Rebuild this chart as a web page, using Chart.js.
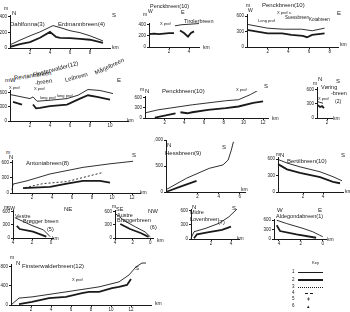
<!DOCTYPE html>
<html>
<head>
<meta charset="utf-8">
<script src="https://cdn.jsdelivr.net/npm/chart.js@4.4.0/dist/chart.umd.min.js"></script>
<style>
body { margin:0; width:350px; height:312px; background:#fff; position:relative; overflow:hidden; font-family:"Liberation Sans", Arial, sans-serif; color:#1a1a1a; }
canvas { position:absolute; }
.t { position:absolute; white-space:nowrap; line-height:1; }
.k { position:absolute; height:0; border-top:1px solid #1a1a1a; }
</style>
</head>
<body>
<script>
// DATOS: km y altura (m) de cada perfil, leidos de la figura
// fino = linea fina, grueso = linea gruesa, punteado = linea de puntos

// Dahlfonna / Erdmannbreen
const dahlFinoKm = [0, 1, 2, 3, 4.3, 5, 6, 7, 8, 9.3];
const dahlFinoM = [40, 100, 155, 205, 285, 260, 220, 195, 155, 90];
const dahlGruesoKm = [0, 1, 2, 3, 4, 4.6, 5, 6, 7, 8, 9.3];
const dahlGruesoM = [15, 50, 75, 130, 205, 140, 130, 125, 115, 105, 65];

// Penckbreen / Tirolerbreen
const tirolFinoKm = [2.6, 3.3, 4.2, 5];
const tirolFinoM = [380, 400, 410, 420];
const tirolGrueso1Km = [0, 0.5, 1, 1.5, 2, 2.5];
const tirolGrueso1M = [230, 240, 230, 240, 250, 250];
const tirolGrueso2Km = [3.1, 3.5, 3.9, 4.2, 4.5];
const tirolGrueso2M = [295, 250, 185, 250, 280];

// Penckbreen / Suessbreen / Kotabreen
const suessFinoKm = [0, 2, 3.5, 5.3, 6.3, 7.5];
const suessFinoM = [440, 365, 345, 345, 315, 365];
const suessGruesoKm = [0, 2, 3.4, 4.3, 5.4, 5.8, 6.3, 7.5];
const suessGruesoM = [330, 265, 265, 235, 215, 190, 235, 265];

// Revtannbreen / Finsterwalder / Leibreen / Marjelbreen
const revtFinoKm = [0, 2, 2.3, 2.7, 4, 5.7, 6.8, 7.8, 9, 10.3];
const revtFinoM = [555, 470, 505, 415, 435, 470, 540, 660, 640, 575];
const revtGrueso1Km = [0.3, 1.2];
const revtGrueso1M = [400, 345];
const revtGrueso2Km = [2.3, 2.6, 3, 4, 5.7, 7, 7.8, 8.7, 10];
const revtGrueso2M = [345, 265, 275, 310, 345, 470, 540, 505, 450];

// Penckbreen N-S
const penckFinoKm = [0, 1.3, 4.8, 8.2, 9.5, 10.7, 12];
const penckFinoM = [150, 240, 390, 510, 540, 690, 900];
const penckGrueso1Km = [1, 3.1];
const penckGrueso1M = [10, 140];
const penckGrueso2Km = [3.6, 4.3, 4.8, 6.4, 8.2, 9.5, 11, 12];
const penckGrueso2M = [170, 140, 170, 240, 290, 340, 450, 490];

// Voringbreen
const voringFinoKm = [0, 0.5, 1.2];
const voringFinoM = [350, 330, 310];
const voringGruesoKm = [0.2, 0.6, 1, 1.4];
const voringGruesoM = [270, 230, 250, 205];

// Antoniabreen
const antoFinoKm = [0, 0.1, 1.5, 3.8, 7.1, 9.8, 12.1];
const antoFinoM = [55, 175, 240, 375, 505, 575, 625];
const antoPunteadoKm = [1.3, 3.1, 5.5, 7.1, 9.1];
const antoPunteadoM = [105, 185, 225, 305, 405];
const antoGruesoKm = [1.1, 3.8, 5.5, 7.1, 8.8, 9.8];
const antoGruesoM = [95, 120, 185, 240, 240, 205];

// Hessbreen
const hessFinoKm = [-0.95, 0.95, 3.1, 4.4, 4.9, 5.2, 5.4];
const hessFinoM = [50, 265, 455, 520, 615, 805, 965];
const hessGruesoKm = [-0.95, 0.3, 1.9];
const hessGruesoM = [5, 100, 215];

// Bertilbreen
const bertilFinoKm = [-0.5, 0.4, 1.7, 3.7, 5, 5.9];
const bertilFinoM = [595, 530, 460, 370, 280, 205];
const bertilGruesoKm = [-0.5, 0.4, 1.7, 3.7, 5, 5.7];
const bertilGruesoM = [510, 415, 350, 270, 185, 160];

// Vestre Broggerbreen
const vestreFinoKm = [3.8, 2.9, 1.9, 0.8, 0.1];
const vestreFinoM = [465, 375, 275, 185, 30];
const vestreGruesoKm = [3.6, 3.3, 1.9, 0.5];
const vestreGruesoM = [275, 205, 145, 30];

// Austre Broggerbreen
const austreFinoKm = [3.9, 2.9, 1.7, 0.6, 0];
const austreFinoM = [550, 390, 255, 140, 25];
const austreGruesoKm = [3.4, 2.3, 1.1, 0.2];
const austreGruesoM = [320, 205, 115, 25];

// Midre Lovenbreen
const midreFinoKm = [0, 0.3, 1.5, 2.8, 3.8, 4.6];
const midreFinoM = [15, 155, 230, 335, 475, 640];
const midreGruesoKm = [0.3, 0.6, 1.8, 3.1, 4];
const midreGruesoM = [15, 100, 145, 195, 265];

// Aldegondabreen
const aldeFinoKm = [4.2, 3.3, 1.8, 0.9, 0.3, 0];
const aldeFinoM = [600, 495, 340, 230, 125, 75];
const aldeGruesoKm = [4.2, 3.9, 2.4, 0.6];
const aldeGruesoM = [440, 255, 150, 40];

// Finsterwalderbreen
const finsFinoKm = [0, 0.8, 2.1, 5.5, 8.8, 10.8, 11.8, 12.5, 13.1, 13.5];
const finsFinoM = [0, 145, 170, 275, 380, 485, 630, 800, 880, 880];
const finsGruesoKm = [0.8, 2.1, 3.8, 5.5, 7.1, 7.8, 8.8, 10.1, 10.8, 11.6, 12];
const finsGruesoM = [20, 65, 145, 170, 250, 275, 275, 355, 380, 420, 545];

// Etiquetas de los ejes
const ticks200 = [0, 200, 400];
const ticks300 = [0, 300, 600];
const ticks400 = [0, 400, 800];
const ticks500 = [0, 500, 1000];
const kmHasta4 = [2, 4];
const kmHasta6 = [2, 4, 6];
const kmHasta8 = [2, 4, 6, 8];
const kmHasta10 = [2, 4, 6, 8, 10];
const kmHasta12 = [2, 4, 6, 8, 10, 12];
const kmInverso = [0, 2, 4];
const kmVoring = [2];

const COLOR = '#1a1a1a';

function serie(km, m, tipo) {
    return {
        data: km.map((x, i) => ({ x: x, y: m[i] })),
        borderColor: COLOR,
        borderWidth: tipo === 'grueso' ? 1.8 : 0.9,
        borderDash: tipo === 'punteado' ? [2, 2] : [],
        pointRadius: 0,
        tension: 0,
        fill: false,
        clip: false
    };
}

// Crea un grafico pequeño en la posicion del panel
function crearPanel(p) {
    const areaW = (p.xMax - p.xMin) * p.pxKm;
    const areaH = p.yMax * p.pxM;
    const izq = 14, arr = 5, der = 3, abj = 9;
    const ancho = Math.round(areaW + izq + der);
    const alto = Math.round(areaH + arr + abj);
    const c = document.createElement('canvas');
    c.width = ancho;
    c.height = alto;
    c.style.left = Math.round(p.x - izq) + 'px';
    c.style.top = Math.round(p.y0 - areaH - arr) + 'px';
    document.body.appendChild(c);

    const ejeComun = {
        border: { display: true, color: COLOR, width: 1 },
        grid: { display: true, drawOnChartArea: false, tickLength: 2, tickColor: COLOR },
        ticks: { font: { size: 4.5, family: 'Liberation Sans' }, color: COLOR, maxRotation: 0, autoSkip: false }
    };

    return new Chart(c, {
        type: 'line',
        data: { datasets: p.series },
        options: {
            responsive: false,
            animation: false,
            layout: { padding: { left: 2, top: arr, right: der, bottom: 1 } },
            plugins: { legend: { display: false }, tooltip: { enabled: false } },
            scales: {
                x: Object.assign({}, ejeComun, {
                    type: 'linear', min: p.xMin, max: p.xMax, reverse: !!p.reverse,
                    ticks: Object.assign({}, ejeComun.ticks, { padding: 0 }),
                    afterBuildTicks: s => { s.ticks = p.xTicks.map(v => ({ value: v })); },
                    afterFit: s => { s.height = 8; s.paddingLeft = 0; s.paddingRight = 0; }
                }),
                y: Object.assign({}, ejeComun, {
                    type: 'linear', min: 0, max: p.yMax,
                    ticks: Object.assign({}, ejeComun.ticks, { padding: 1 }),
                    afterBuildTicks: s => { s.ticks = p.yTicks.map(v => ({ value: v })); },
                    afterFit: s => { s.width = 12; s.paddingTop = 0; s.paddingBottom = 0; }
                })
            }
        }
    });
}

function texto(t, x, y, s, rot) {
    const d = document.createElement('div');
    d.className = 't';
    d.textContent = t;
    d.style.left = x + 'px';
    d.style.top = (y - s / 2) + 'px';
    d.style.fontSize = s + 'px';
    if (rot) {
        d.style.transform = 'rotate(' + rot + 'deg)';
        d.style.transformOrigin = 'left center';
    }
    document.body.appendChild(d);
}

function lineaClave(x1, x2, y, estilo, grosor) {
    const d = document.createElement('div');
    d.className = 'k';
    d.style.left = x1 + 'px';
    d.style.top = y + 'px';
    d.style.width = (x2 - x1) + 'px';
    d.style.borderTop = grosor + 'px ' + estilo + ' ' + COLOR;
    document.body.appendChild(d);
}

// Paneles
crearPanel({ x: 10, y0: 48, pxKm: 10, pxM: 0.0775, xMin: 0, xMax: 10, yMax: 420, xTicks: kmHasta8, yTicks: ticks200,
    series: [serie(dahlFinoKm, dahlFinoM, 'fino'), serie(dahlGruesoKm, dahlGruesoM, 'grueso')] });
crearPanel({ x: 149, y0: 47, pxKm: 10, pxM: 0.055, xMin: 0, xMax: 5, yMax: 430, xTicks: kmHasta4, yTicks: ticks200,
    series: [serie(tirolFinoKm, tirolFinoM, 'fino'), serie(tirolGrueso1Km, tirolGrueso1M, 'grueso'), serie(tirolGrueso2Km, tirolGrueso2M, 'grueso')] });
crearPanel({ x: 247, y0: 47, pxKm: 10.35, pxM: 0.0517, xMin: 0, xMax: 8.8, yMax: 640, xTicks: kmHasta8, yTicks: ticks300,
    series: [serie(suessFinoKm, suessFinoM, 'fino'), serie(suessGruesoKm, suessGruesoM, 'grueso')] });
crearPanel({ x: 10, y0: 121, pxKm: 10, pxM: 0.0483, xMin: 0, xMax: 11.8, yMax: 650, xTicks: kmHasta10, yTicks: ticks300,
    series: [serie(revtFinoKm, revtFinoM, 'fino'), serie(revtGrueso1Km, revtGrueso1M, 'grueso'), serie(revtGrueso2Km, revtGrueso2M, 'grueso')] });
crearPanel({ x: 145, y0: 118, pxKm: 9.8, pxM: 0.0333, xMin: 0, xMax: 12.5, yMax: 650, xTicks: kmHasta12, yTicks: ticks300,
    series: [serie(penckFinoKm, penckFinoM, 'fino'), serie(penckGrueso1Km, penckGrueso1M, 'grueso'), serie(penckGrueso2Km, penckGrueso2M, 'grueso')] });
crearPanel({ x: 317, y0: 118, pxKm: 5, pxM: 0.0483, xMin: 0, xMax: 3, yMax: 650, xTicks: kmVoring, yTicks: ticks300,
    series: [serie(voringFinoKm, voringFinoM, 'fino'), serie(voringGruesoKm, voringGruesoM, 'grueso')] });
crearPanel({ x: 12, y0: 192, pxKm: 10, pxM: 0.05, xMin: 0, xMax: 12.8, yMax: 650, xTicks: kmHasta12, yTicks: ticks300,
    series: [serie(antoFinoKm, antoFinoM, 'fino'), serie(antoPunteadoKm, antoPunteadoM, 'punteado'), serie(antoGruesoKm, antoGruesoM, 'grueso')] });
crearPanel({ x: 166, y0: 192, pxKm: 10.5, pxM: 0.052, xMin: -1, xMax: 6.5, yMax: 1000, xTicks: kmHasta6, yTicks: ticks500,
    series: [serie(hessFinoKm, hessFinoM, 'fino'), serie(hessGruesoKm, hessGruesoM, 'grueso')] });
crearPanel({ x: 278, y0: 192, pxKm: 10, pxM: 0.055, xMin: -0.5, xMax: 6, yMax: 640, xTicks: kmHasta4, yTicks: ticks300,
    series: [serie(bertilFinoKm, bertilFinoM, 'fino'), serie(bertilGruesoKm, bertilGruesoM, 'grueso')] });
crearPanel({ x: 13, y0: 238, pxKm: 9.5, pxM: 0.0433, xMin: -0.2, xMax: 4, reverse: true, yMax: 640, xTicks: kmInverso, yTicks: ticks300,
    series: [serie(vestreFinoKm, vestreFinoM, 'fino'), serie(vestreGruesoKm, vestreGruesoM, 'grueso')] });
crearPanel({ x: 115, y0: 238, pxKm: 8.75, pxM: 0.0433, xMin: -0.3, xMax: 4, reverse: true, yMax: 640, xTicks: kmInverso, yTicks: ticks300,
    series: [serie(austreFinoKm, austreFinoM, 'fino'), serie(austreGruesoKm, austreGruesoM, 'grueso')] });
crearPanel({ x: 191, y0: 239, pxKm: 10, pxM: 0.0467, xMin: 0, xMax: 4.8, yMax: 640, xTicks: kmHasta4, yTicks: ticks300,
    series: [serie(midreFinoKm, midreFinoM, 'fino'), serie(midreGruesoKm, midreGruesoM, 'grueso')] });
crearPanel({ x: 274, y0: 239, pxKm: 11, pxM: 0.0317, xMin: -0.3, xMax: 4.45, reverse: true, yMax: 640, xTicks: kmInverso, yTicks: ticks300,
    series: [serie(aldeFinoKm, aldeFinoM, 'fino'), serie(aldeGruesoKm, aldeGruesoM, 'grueso')] });
crearPanel({ x: 11, y0: 305, pxKm: 10, pxM: 0.0475, xMin: 0, xMax: 14, yMax: 860, xTicks: kmHasta12, yTicks: ticks400,
    series: [serie(finsFinoKm, finsFinoM, 'fino'), serie(finsGruesoKm, finsGruesoM, 'grueso')] });

// Textos
texto('m', 4, 8, 5); texto('N', 12, 13, 6); texto('S', 112, 15, 6);
texto('Dahlfonna(3)', 10, 24, 6); texto('Erdmannbreen(4)', 58, 24, 6); texto('km', 112, 47, 5);

texto('Penckbreen(10)', 150, 7, 5.5); texto('E', 181, 13, 5.5); texto('m', 143, 14, 5); texto('W', 148, 11, 5);
texto('X prof', 160, 24, 4); texto('Tirolerbreen', 184, 22, 5.5); texto('km', 203, 47, 5);

texto('m', 246, 5, 5); texto('W', 248, 10, 5); texto('Penckbreen(10)', 262, 5, 6);
texto('X prof s.', 277, 13, 4); texto('Long prof', 258, 21, 4); texto('Suessbreen', 285, 18, 4.5);
texto('Kotabreen', 309, 20, 4.5); texto('E', 337, 13, 6); texto('km', 340, 44, 5);

texto('mW', 5, 80, 6); texto('Revtannbreen', 14, 78, 6, -8); texto('Finsterwalder(12)', 33, 75, 6, -15);
texto('-breen', 35, 83, 6, -8); texto('Leibreen', 65, 80, 6, -15); texto('Mårjelbreen', 95, 73, 6, -25);
texto('E', 117, 80, 6); texto('X prof', 9, 88, 4); texto('X prof', 34, 89, 4);
texto('long prof', 40, 98, 4); texto('long prof', 57, 96, 4); texto('km', 127, 120, 5);

texto('m', 140, 89, 5); texto('N', 145, 91, 6); texto('Penckbreen(10)', 162, 91, 6);
texto('X prof', 236, 90, 4); texto('S', 264, 86, 6); texto('km', 272, 118, 5);

texto('m', 313, 83, 5); texto('N', 318, 79, 6); texto('S', 336, 81, 6);
texto('Vøring', 321, 88, 5.5); texto('-breen', 331, 94, 5.5); texto('(2)', 335, 101, 5); texto('X prof', 318, 99, 4);
texto('km', 333, 118, 5);

texto('m', 6, 152, 5); texto('N', 9, 157, 6); texto('Antoniabreen(8)', 26, 163, 6); texto('S', 132, 155, 6); texto('km', 140, 192, 5);

texto('N', 167, 145, 6); texto('Hessbreen(9)', 165, 153, 6); texto('S', 222, 147, 6); texto('km', 241, 189, 5);

texto('m', 276, 154, 5); texto('N', 280, 155, 6); texto('Bertilbreen(10)', 287, 161, 6); texto('S', 341, 155, 6); texto('km', 345, 191, 5);

texto('m', 4, 207, 5); texto('SW', 7, 208, 5); texto('NE', 64, 209, 6);
texto('Vestre', 15, 217, 5.5); texto('Brøgger breen', 23, 222, 5.5); texto('(5)', 47, 230, 5.5); texto('km', 52, 238, 5);

texto('m', 112, 206, 5); texto('SE', 116, 210, 5.5); texto('NW', 148, 211, 6);
texto('Austre', 117, 216, 5.5); texto('Brøggerbreen', 117, 221, 5.5); texto('(6)', 150, 228, 5.5); texto('km', 157, 240, 5);

texto('N', 192, 207, 6); texto('Midre', 190, 213, 5.5); texto('Lovenbreen', 190, 220, 5.5); texto('(7)', 218, 223, 5.5);
texto('S', 232, 208, 6); texto('km', 237, 238, 5);

texto('W', 277, 210, 6); texto('E', 318, 210, 6); texto('Aldegondabreen(1)', 276, 217, 5.5); texto('km', 327, 239, 5);

texto('m', 10, 257, 5); texto('N', 16, 263, 6); texto('Finsterwalderbreen(12)', 22, 266, 6);
texto('X prof', 72, 280, 4); texto('S', 135, 268, 6); texto('km', 155, 303, 5);

// Clave
texto('Key', 312, 263, 4);
texto('1', 292, 272, 4.5); lineaClave(298, 323, 272, 'solid', 1);
texto('2', 292, 280, 4.5); lineaClave(298, 323, 279, 'solid', 2);
texto('3', 292, 287, 4.5); lineaClave(298, 323, 287, 'dotted', 1);
texto('4', 292, 293, 4.5); lineaClave(305, 313, 293, 'dashed', 1);
texto('5', 292, 299, 4.5); texto('ǂ', 307, 299, 5);
texto('6', 292, 306, 4.5); texto('▴', 307, 306, 5);
</script>
</body>
</html>
